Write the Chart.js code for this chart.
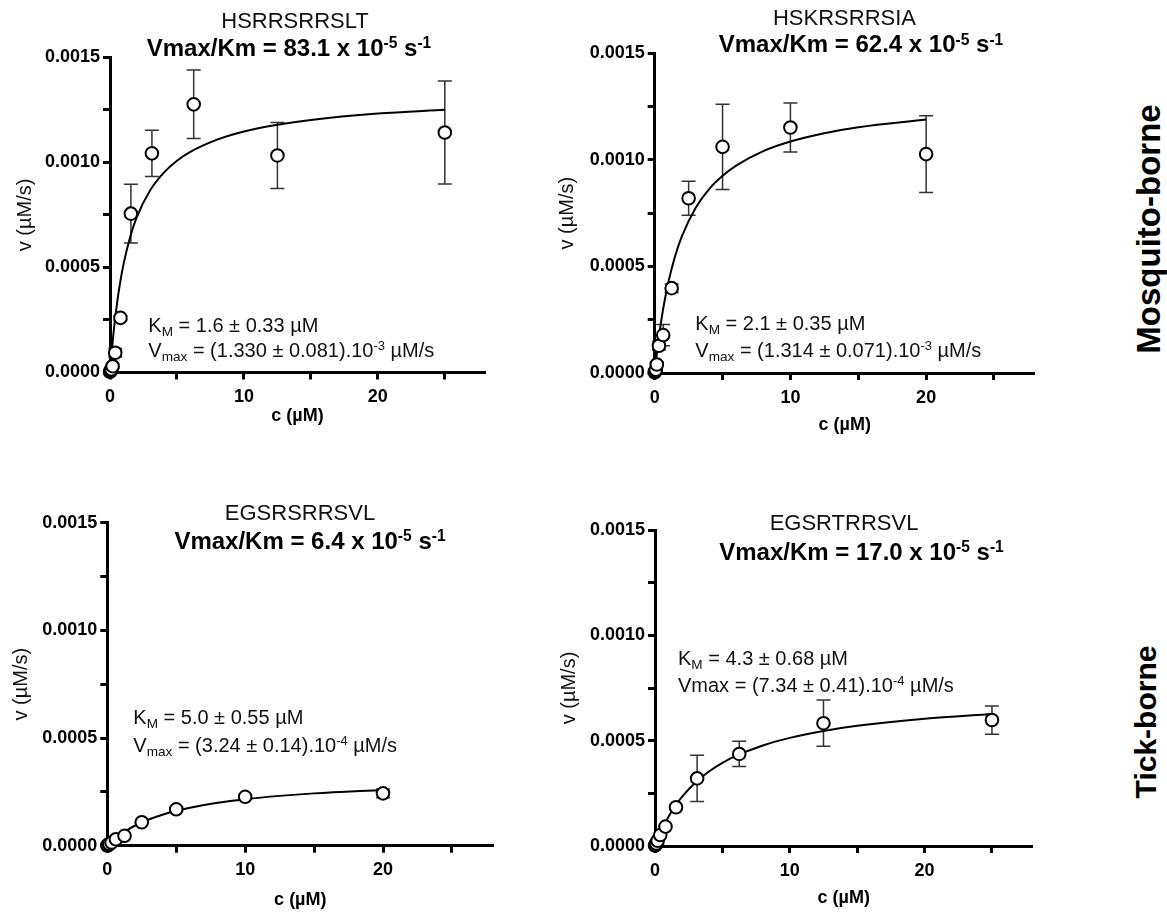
<!DOCTYPE html>
<html><head><meta charset="utf-8">
<script src="https://cdn.jsdelivr.net/npm/chart.js@4.4.1/dist/chart.umd.min.js"></script>
<style>
body{margin:0;background:#fff;}
#fig{position:relative;width:1167px;height:913px;overflow:hidden;background:#fff;font-family:"Liberation Sans",Arial,sans-serif;color:#000;}
canvas{position:absolute;}
.t{position:absolute;white-space:nowrap;line-height:1;}
.seq{font-size:22px;transform:translateX(-50%);color:#111;}
.kin{font-size:24px;font-weight:bold;transform:translateX(-50%);}
.ann{font-size:20px;color:#111;}
.sub{font-size:0.68em;position:relative;top:0.3em;}
.sup{font-size:0.65em;position:relative;top:-0.5em;}
.row{font-weight:bold;transform:translate(-50%,-50%) rotate(-90deg);}
</style></head><body><div id="fig"></div>
<script>
// ---------- tick labels ----------
const xTickValues = [0, 5, 10, 15, 20, 25];
const xTickLabels = ['0', '', '10', '', '20', ''];
const yTickValues = [0, 0.00025, 0.0005, 0.00075, 0.001, 0.00125, 0.0015];
const yTickLabels = ['0.0000', '', '0.0005', '', '0.0010', '', '0.0015'];

// ---------- texts ----------
const panelNames = ['HSRRSRRSLT', 'HSKRSRRSIA', 'EGSRSRRSVL', 'EGSRTRRSVL'];
const efficiency = ['83.1', '62.4', '6.4', '17.0'];
const kmText = ['1.6 ± 0.33', '2.1 ± 0.35', '5.0 ± 0.55', '4.3 ± 0.68'];
const vmaxText = ['(1.330 ± 0.081).10', '(1.314 ± 0.071).10', '(3.24 ± 0.14).10', '(7.34 ± 0.41).10'];
const vmaxExp = ['-3', '-3', '-4', '-4'];
const rowLabels = ['Mosquito-borne', 'Tick-borne'];

// ---------- panel 1: HSRRSRRSLT ----------
const conc1 = [0, 0.049, 0.098, 0.195, 0.39, 0.78, 1.56, 3.13, 6.25, 12.5, 25];
const rate1 = [0.000003, 0.000008, 0.000015, 0.00003, 0.000094, 0.00026, 0.000756, 0.001043, 0.001276, 0.001033, 0.001142];
const err1  = [0, 0, 0.000005, 0.00001, 0.00002, 0.00001, 0.00014, 0.00011, 0.000163, 0.000157, 0.000245];
const fitConc1 = [0, 0.25, 0.5, 0.75, 1, 1.5, 2, 3, 4, 5, 6, 8, 10, 12.5, 15, 20, 25];
const fitRate1 = [0, 0.00018, 0.000317, 0.000425, 0.000512, 0.000644, 0.000739, 0.000867, 0.00095, 0.001008, 0.00105, 0.001108, 0.001147, 0.001179, 0.001202, 0.001232, 0.00125];

// ---------- panel 2: HSKRSRRSIA ----------
const conc2 = [0, 0.039, 0.078, 0.156, 0.3125, 0.625, 1.25, 2.5, 5, 10, 20];
const rate2 = [0.000003, 0.000008, 0.000015, 0.00004, 0.000128, 0.000178, 0.000398, 0.00082, 0.001061, 0.001152, 0.001027];
const err2  = [0, 0, 0, 0.00001, 0.00002, 0.00005, 0.00002, 0.00008, 0.0002, 0.000115, 0.00018];
const fitConc2 = [0, 0.25, 0.5, 0.75, 1, 1.5, 2, 3, 4, 5, 6, 8, 10, 12.5, 15, 20];
const fitRate2 = [0, 0.00014, 0.000253, 0.000346, 0.000424, 0.000548, 0.000641, 0.000773, 0.000862, 0.000925, 0.000973, 0.001041, 0.001086, 0.001125, 0.001153, 0.001189];

// ---------- panel 3: EGSRSRRSVL ----------
const conc3 = [0, 0.039, 0.078, 0.156, 0.3125, 0.625, 1.25, 2.5, 5, 10, 20];
const rate3 = [0.000001, 0.000002, 0.000004, 0.000008, 0.000015, 0.00003, 0.000046, 0.000109, 0.000169, 0.000227, 0.000243];
const err3  = [0, 0, 0, 0, 0, 0, 0, 0.000005, 0.000008, 0.00001, 0.00002];
const fitConc3 = [0, 0.25, 0.5, 1, 1.5, 2, 3, 4, 5, 6, 8, 10, 12.5, 15, 20];
const fitRate3 = [0, 0.0000154, 0.0000295, 0.000054, 0.0000748, 0.0000926, 0.0001215, 0.000144, 0.000162, 0.0001767, 0.0001994, 0.000216, 0.0002314, 0.000243, 0.0002592];

// ---------- panel 4: EGSRTRRSVL ----------
const conc4 = [0, 0.049, 0.098, 0.195, 0.39, 0.78, 1.56, 3.125, 6.25, 12.5, 25];
const rate4 = [0.000002, 0.000006, 0.000012, 0.000025, 0.000052, 0.000092, 0.000184, 0.000321, 0.000437, 0.000583, 0.000598];
const err4  = [0, 0, 0, 0, 0, 0, 0.00001, 0.00011, 0.00006, 0.00011, 0.000067];
const fitConc4 = [0, 0.25, 0.5, 1, 1.5, 2, 3, 4, 5, 6, 8, 10, 12.5, 15, 20, 25];
const fitRate4 = [0, 0.0000403, 0.0000765, 0.0001385, 0.0001898, 0.000233, 0.0003016, 0.0003537, 0.0003946, 0.0004276, 0.0004774, 0.0005133, 0.0005461, 0.0005705, 0.0006041, 0.0006263];

const panelData = [
  {conc: conc1, rate: rate1, err: err1, fitConc: fitConc1, fitRate: fitRate1},
  {conc: conc2, rate: rate2, err: err2, fitConc: fitConc2, fitRate: fitRate2},
  {conc: conc3, rate: rate3, err: err3, fitConc: fitConc3, fitRate: fitRate3},
  {conc: conc4, rate: rate4, err: err4, fitConc: fitConc4, fitRate: fitRate4}
];

// ---------- layout (positions, px) ----------
const layout = [
  {left:0,   top:0,   w:500, h:440, yW:110,   xH:67.5, padT:57.3, padR:15,   yTitlePad:13.7, xTitlePad:13.2,
   seq:[295,9.6],   kin:[289,35.5],   ann:[148.3,314.8,339.8], vSub:true},
  {left:545, top:0,   w:510, h:440, yW:109.7, xH:67,   padT:53.3, padR:20.3, yTitlePad:10.7, xTitlePad:4.2,
   seq:[844.5,6.8], kin:[861,32.3],   ann:[695.3,313.1,339.8], vSub:true},
  {left:0,   top:470, w:510, h:443, yW:107.3, xH:67.3, padT:52.7, padR:16.7, yTitlePad:9.7,  xTitlePad:2.2,
   seq:[300,502.3], kin:[310,528.8],  ann:[133.3,707.1,734.8], vSub:true},
  {left:545, top:470, w:510, h:443, yW:110,   xH:67,   padT:60,   padR:22.6, yTitlePad:12.7, xTitlePad:4.2,
   seq:[844,512.3], kin:[861.5,540],  ann:[678,648.1,674.8], vSub:false}
];
const rowPos = [[1148, 229, 33], [1146, 722, 30]];

const FONT = '"Liberation Sans", Arial, sans-serif';
Chart.defaults.font.family = FONT;
Chart.defaults.color = '#000';

const errorBarPlugin = {
  id: 'errorBars',
  beforeDatasetsDraw(chart) {
    const ds = chart.data.datasets.find(d => d.errors);
    if (!ds) return;
    const {ctx} = chart;
    const x = chart.scales.x, y = chart.scales.y;
    ctx.save();
    ctx.strokeStyle = '#333';
    ctx.lineWidth = 1.5;
    ds.data.forEach((p, i) => {
      const e = ds.errors[i];
      if (!e) return;
      const px = x.getPixelForValue(p.x);
      const t = y.getPixelForValue(p.y + e);
      const b = y.getPixelForValue(p.y - e);
      ctx.beginPath();
      ctx.moveTo(px, t); ctx.lineTo(px, b);
      ctx.moveTo(px - 7, t); ctx.lineTo(px + 7, t);
      ctx.moveTo(px - 7, b); ctx.lineTo(px + 7, b);
      ctx.stroke();
    });
    ctx.restore();
  }
};

const fig = document.getElementById('fig');

function addText(cls, html, left, top) {
  const d = document.createElement('div');
  d.className = 't ' + cls;
  d.innerHTML = html;
  d.style.left = left + 'px';
  d.style.top = top + 'px';
  fig.appendChild(d);
  return d;
}

layout.forEach((L, k) => {
  const D = panelData[k];
  const cv = document.createElement('canvas');
  cv.width = L.w; cv.height = L.h;
  cv.style.left = L.left + 'px'; cv.style.top = L.top + 'px';
  cv.style.width = L.w + 'px'; cv.style.height = L.h + 'px';
  fig.appendChild(cv);

  new Chart(cv.getContext('2d'), {
    type: 'scatter',
    data: {
      datasets: [
        {
          data: D.conc.map((c, i) => ({x: c, y: D.rate[i]})),
          errors: D.err,
          showLine: false,
          pointRadius: 6.3,
          pointBorderWidth: 2,
          pointBackgroundColor: '#fff',
          pointBorderColor: '#000',
          clip: false,
          order: 1
        },
        {
          data: D.fitConc.map((c, i) => ({x: c, y: D.fitRate[i]})),
          showLine: true,
          pointRadius: 0,
          borderColor: '#000',
          borderWidth: 2,
          cubicInterpolationMode: 'monotone',
          clip: false,
          order: 2
        }
      ]
    },
    options: {
      responsive: false,
      animation: false,
      devicePixelRatio: 1,
      layout: {padding: {left: 0, right: L.padR, top: L.padT, bottom: 0}},
      plugins: {legend: {display: false}, tooltip: {enabled: false}},
      scales: {
        x: {
          type: 'linear', min: 0, max: 28,
          afterBuildTicks: s => { s.ticks = xTickValues.map(v => ({value: v})); },
          afterFit: s => { s.height = L.xH; },
          ticks: {autoSkip: false, maxRotation: 0, padding: 7, color: '#000',
                  font: {size: 18, weight: 'bold'},
                  callback: (v, i) => xTickLabels[i]},
          grid: {display: true, drawOnChartArea: false, drawTicks: true, tickLength: 7, tickWidth: 3, tickColor: '#000'},
          border: {display: true, width: 3, color: '#000'},
          title: {display: true, text: 'c (µM)', color: '#000', font: {size: 18, weight: 'bold'},
                  padding: {top: 0, bottom: L.xTitlePad}}
        },
        y: {
          type: 'linear', min: 0, max: 0.0015,
          afterBuildTicks: s => { s.ticks = yTickValues.map(v => ({value: v})); },
          afterFit: s => { s.width = L.yW; },
          ticks: {autoSkip: false, padding: 3, color: '#000',
                  font: {size: 18, weight: 'bold'},
                  callback: (v, i) => yTickLabels[i]},
          grid: {display: true, drawOnChartArea: false, drawTicks: true, tickLength: 7, tickWidth: 3, tickColor: '#000'},
          border: {display: true, width: 3, color: '#000'},
          title: {display: true, text: 'v (µM/s)', color: '#111', font: {size: 20, weight: 'normal'},
                  padding: {top: L.yTitlePad, bottom: 0}}
        }
      }
    },
    plugins: [errorBarPlugin]
  });

  addText('seq', panelNames[k], L.seq[0], L.seq[1]);
  addText('kin', 'Vmax/Km = ' + efficiency[k] + ' x 10<span class="sup">-5</span> s<span class="sup">-1</span>', L.kin[0], L.kin[1]);
  addText('ann', 'K<span class="sub">M</span> = ' + kmText[k] + ' µM', L.ann[0], L.ann[1]);
  const vLabel = L.vSub ? 'V<span class="sub">max</span>' : 'Vmax';
  addText('ann', vLabel + ' = ' + vmaxText[k] + '<span class="sup">' + vmaxExp[k] + '</span> µM/s', L.ann[0], L.ann[2]);
});

rowLabels.forEach((r, i) => {
  const d = addText('row', r, rowPos[i][0], rowPos[i][1]);
  d.style.fontSize = rowPos[i][2] + 'px';
});
</script></body></html>
